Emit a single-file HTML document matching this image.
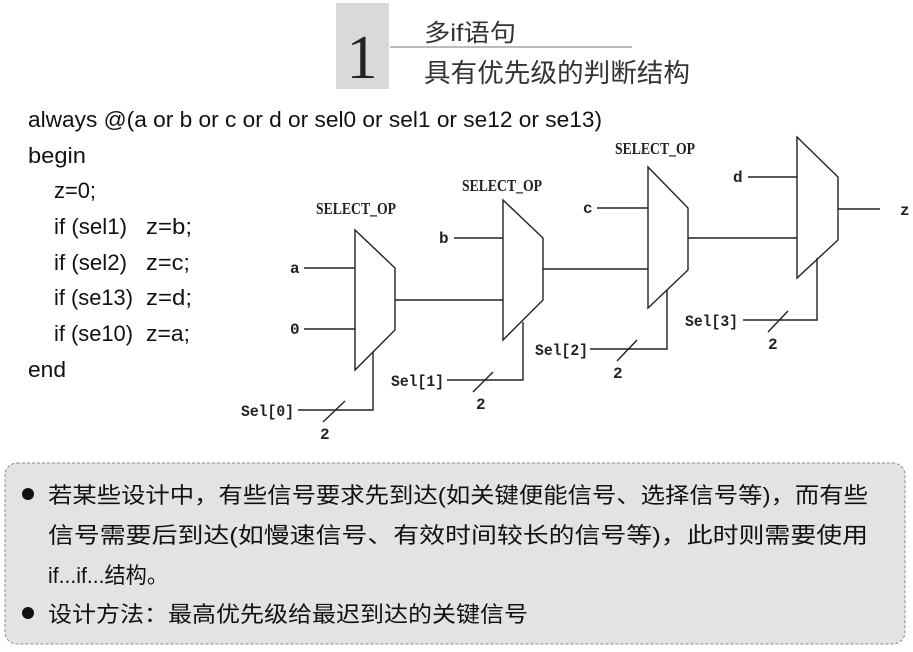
<!DOCTYPE html>
<html><head><meta charset="utf-8"><style>
html,body{margin:0;padding:0;background:#fff;}
svg{display:block;}
</style></head><body>
<svg width="913" height="652" viewBox="0 0 913 652" xmlns="http://www.w3.org/2000/svg">
<rect x="0" y="0" width="913" height="652" fill="#fff"/>
<!-- title -->
<rect x="336" y="3" width="53" height="86" fill="#d9d9d9"/>
<text x="362" y="78" font-family="Liberation Serif, serif" font-size="62" text-anchor="middle" fill="#222">1</text>
<line x1="390" y1="47" x2="632" y2="47" stroke="#777" stroke-width="1"/>
<text x="424" y="41" font-family="Liberation Sans, 'Noto Sans CJK SC', sans-serif" font-size="24" fill="#333" textLength="92" lengthAdjust="spacingAndGlyphs">多if语句</text>
<text x="424" y="82" font-family="Liberation Sans, 'Noto Sans CJK SC', sans-serif" font-size="26" fill="#333" textLength="266" lengthAdjust="spacingAndGlyphs">具有优先级的判断结构</text>
<!-- code -->
<g font-family="Liberation Sans, 'Noto Sans CJK SC', sans-serif" font-size="22" fill="#111">
<text x="28" y="127" textLength="574" lengthAdjust="spacingAndGlyphs">always @(a or b or c or d or sel0 or sel1 or se12 or se13)</text>
<text x="28" y="163" textLength="58" lengthAdjust="spacingAndGlyphs">begin</text>
<text x="54" y="198" textLength="42" lengthAdjust="spacingAndGlyphs">z=0;</text>
<text x="54" y="234" textLength="73" lengthAdjust="spacingAndGlyphs">if (sel1)</text><text x="146" y="234" textLength="46" lengthAdjust="spacingAndGlyphs">z=b;</text>
<text x="54" y="270" textLength="73" lengthAdjust="spacingAndGlyphs">if (sel2)</text><text x="146" y="270" textLength="44" lengthAdjust="spacingAndGlyphs">z=c;</text>
<text x="54" y="305" textLength="79" lengthAdjust="spacingAndGlyphs">if (se13)</text><text x="146" y="305" textLength="46" lengthAdjust="spacingAndGlyphs">z=d;</text>
<text x="54" y="341" textLength="79" lengthAdjust="spacingAndGlyphs">if (se10)</text><text x="146" y="341" textLength="44" lengthAdjust="spacingAndGlyphs">z=a;</text>
<text x="28" y="377" textLength="38" lengthAdjust="spacingAndGlyphs">end</text>
</g>
<!-- diagram -->
<g stroke="#222" stroke-width="1.4" fill="none">
<polygon points="355,230 395,268 395,330 355,370"/>
<polygon points="503,200 543,238 543,300 503,340"/>
<polygon points="648,167 688,208 688,270 648,308"/>
<polygon points="797,137 838,177 838,240 797,278"/>
<line x1="304" y1="268" x2="355" y2="268"/>
<line x1="304" y1="329" x2="355" y2="329"/>
<line x1="395" y1="300" x2="503" y2="300"/>
<line x1="454" y1="238" x2="503" y2="238"/>
<line x1="543" y1="269" x2="648" y2="269"/>
<line x1="597" y1="208" x2="648" y2="208"/>
<line x1="688" y1="238" x2="797" y2="238"/>
<line x1="748" y1="177" x2="797" y2="177"/>
<line x1="838" y1="209" x2="880" y2="209"/>
<polyline points="298,410 373,410 373,352"/>
<polyline points="447,380 523,380 523,322"/>
<polyline points="590,349 667,349 667,290"/>
<polyline points="743,320 817,320 817,258"/>
<line x1="323" y1="422" x2="345" y2="401"/>
<line x1="473" y1="392" x2="493" y2="372"/>
<line x1="617" y1="361" x2="637" y2="340"/>
<line x1="768" y1="332" x2="788" y2="311"/>
</g>
<g font-family="Liberation Mono, monospace" font-weight="bold" font-size="16" fill="#222">
<text x="356" y="214" text-anchor="middle" font-family="Liberation Serif, serif" font-size="17" textLength="80" lengthAdjust="spacingAndGlyphs">SELECT_OP</text>
<text x="502" y="191" text-anchor="middle" font-family="Liberation Serif, serif" font-size="17" textLength="80" lengthAdjust="spacingAndGlyphs">SELECT_OP</text>
<text x="655" y="154" text-anchor="middle" font-family="Liberation Serif, serif" font-size="17" textLength="80" lengthAdjust="spacingAndGlyphs">SELECT_OP</text>
<text x="290" y="273">a</text>
<text x="290" y="334">0</text>
<text x="439" y="243">b</text>
<text x="583" y="213">c</text>
<text x="733" y="182">d</text>
<text x="900" y="215">z</text>
<text x="241" y="416" textLength="53" lengthAdjust="spacingAndGlyphs">Sel[0]</text>
<text x="391" y="386" textLength="53" lengthAdjust="spacingAndGlyphs">Sel[1]</text>
<text x="535" y="355" textLength="53" lengthAdjust="spacingAndGlyphs">Sel[2]</text>
<text x="685" y="326" textLength="53" lengthAdjust="spacingAndGlyphs">Sel[3]</text>
<text x="320" y="439">2</text>
<text x="476" y="409">2</text>
<text x="613" y="378">2</text>
<text x="768" y="349">2</text>
</g>
<!-- note box -->
<rect x="5" y="463" width="900" height="181" rx="12" fill="#e3e3e3" stroke="#888" stroke-width="1" stroke-dasharray="3,2"/>
<g fill="#111">
<circle cx="28" cy="494" r="6"/>
<circle cx="28" cy="613" r="6"/>
</g>
<g font-family="Liberation Sans, 'Noto Sans CJK SC', sans-serif" font-size="22" fill="#111">
<text x="48" y="503" textLength="820" lengthAdjust="spacingAndGlyphs">若某些设计中，有些信号要求先到达(如关键便能信号、选择信号等)，而有些</text>
<text x="48" y="543" textLength="820" lengthAdjust="spacingAndGlyphs">信号需要后到达(如慢速信号、有效时间较长的信号等)，此时则需要使用</text>
<text x="48" y="583" textLength="120" lengthAdjust="spacingAndGlyphs">if...if...结构。</text>
<text x="48" y="622" textLength="480" lengthAdjust="spacingAndGlyphs">设计方法：最高优先级给最迟到达的关键信号</text>
</g>
</svg>
</body></html>
